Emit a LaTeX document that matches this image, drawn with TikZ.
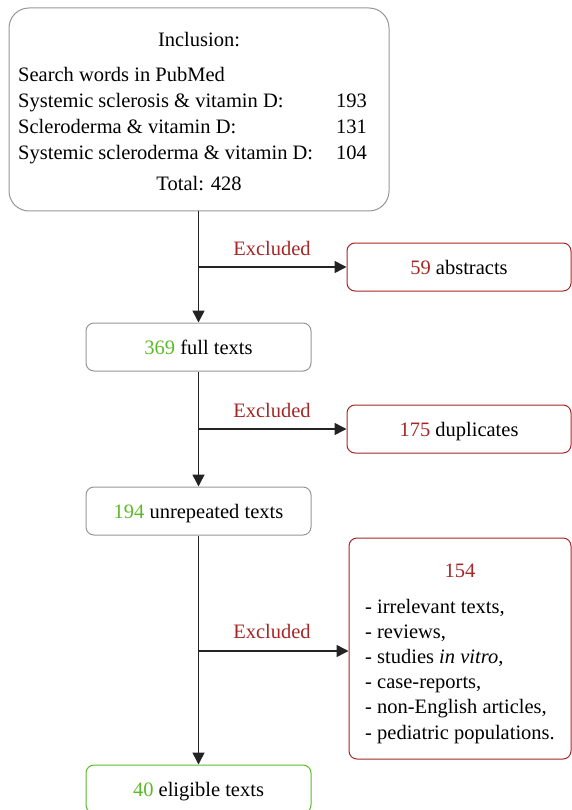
\documentclass[tikz,border=0pt]{standalone}
\usepackage{fontspec}
\setmainfont{Liberation Serif}
\usetikzlibrary{arrows.meta}
\definecolor{exred}{RGB}{165,38,38}
\definecolor{okgreen}{RGB}{92,186,40}
\definecolor{boxgray}{RGB}{150,150,150}
\definecolor{linedark}{RGB}{35,35,35}
\begin{document}
\begin{tikzpicture}[x=1pt,y=-1pt,
  every node/.style={font=\fontsize{20.5}{26}\selectfont, inner sep=0pt},
  boxtext/.style={text height=15.5pt, text depth=0pt},
  graybox/.style={boxtext, draw=boxgray, line width=1pt, rounded corners=8pt, minimum width=225pt, minimum height=48pt},
  redbox/.style={boxtext, draw=exred, line width=1pt, rounded corners=8pt, minimum width=224pt, minimum height=48pt},
  greenbox/.style={boxtext, draw=okgreen, line width=1pt, rounded corners=8pt, minimum width=225pt, minimum height=48pt},
  flow/.style={draw=linedark, line width=1.5pt, -{Triangle[length=12pt,width=12pt]}},
  exlabel/.style={text=exred, anchor=base}]
\useasboundingbox (0,0) rectangle (572,810);
\clip (0,0) rectangle (572,810);
% top box
\node[draw=boxgray, line width=1pt, rounded corners=20pt, minimum width=380pt, minimum height=203pt] (top) at (199,109.5) {};
\node[anchor=base] (inc) at (199,47) {Inclusion:};
\node[anchor=base west] (sw) at (18,82) {Search words in PubMed};
\node[anchor=base west] (l1) at (18,108) {Systemic sclerosis \& vitamin D:};
\node[anchor=base west] (l2) at (18,134) {Scleroderma \& vitamin D:};
\node[anchor=base west] (l3) at (18,160) {Systemic scleroderma \& vitamin D:};
\node[anchor=base east] (n1) at (367,108) {193};
\node[anchor=base east] (n2) at (367,134) {131};
\node[anchor=base east] (n3) at (367,160) {104};
\node[anchor=base] (tot) at (199,191) {Total: 428};
% main boxes
\node[graybox] (full) at (198.5,347) {\textcolor{okgreen}{369} full texts};
\node[graybox] (unrep) at (198.5,511) {\textcolor{okgreen}{194} unrepeated texts};
\node[greenbox] (elig) at (198.5,789) {\textcolor{okgreen}{40} eligible texts};
% excluded boxes
\node[redbox] (abs) at (459,267) {\textcolor{exred}{59} abstracts};
\node[redbox] (dup) at (459,429) {\textcolor{exred}{175} duplicates};
\node[draw=exred, line width=1pt, rounded corners=8pt, minimum width=222pt, minimum height=221pt] (misc) at (460,648.5) {};
\node[exlabel] (m0) at (460,577) {154};
\node[anchor=base west] (m1) at (365,613) {- irrelevant texts,};
\node[anchor=base west] (m2) at (365,638) {- reviews,};
\node[anchor=base west] (m3) at (365,663) {- studies \textit{in vitro},};
\node[anchor=base west] (m4) at (365,688) {- case-reports,};
\node[anchor=base west] (m5) at (365,713) {- non-English articles,};
\node[anchor=base west] (m6) at (365,739) {- pediatric populations.};
% branch points
\coordinate (b1) at (198.5,267);
\coordinate (b2) at (198.5,429);
\coordinate (b3) at (198.5,651);
% connectors
\draw[flow] (top.south -| full.north) -- (full.north);
\draw[flow] (full.south) -- (unrep.north);
\draw[flow] (unrep.south) -- (elig.north);
\draw[flow] (b1) -- (abs.west);
\draw[flow] (b2) -- (dup.west);
\draw[flow] (b3) -- (b3 -| misc.west);
\node[exlabel] (e1) at (272,255) {Excluded};
\node[exlabel] (e2) at (272,417) {Excluded};
\node[exlabel] (e3) at (272,638) {Excluded};
\end{tikzpicture}
\end{document}
